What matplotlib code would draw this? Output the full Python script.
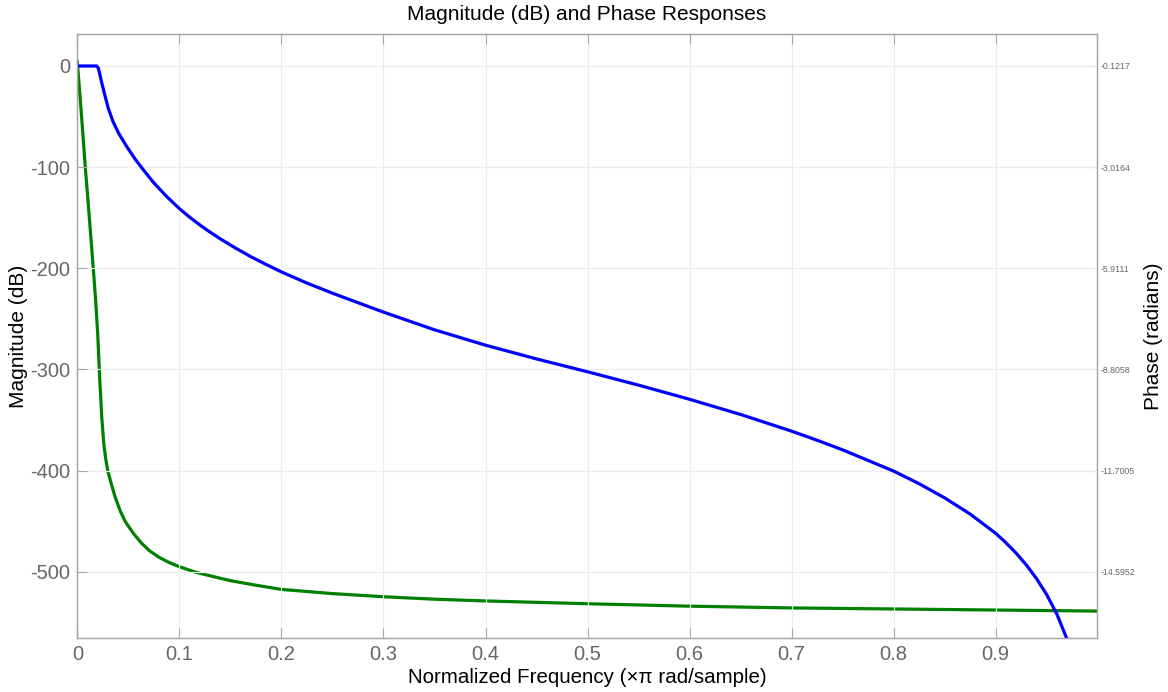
import matplotlib
matplotlib.use("Agg")
import matplotlib.pyplot as plt

plt.rcParams['font.family'] = ['Liberation Sans', 'DejaVu Sans']
plt.rcParams['axes.unicode_minus'] = False

# magnitude response (dB)
freq_mag = [0, 0.010, 0.019, 0.0205, 0.022, 0.024, 0.027, 0.0304, 0.035, 0.0402,
            0.048, 0.0566, 0.065, 0.0745, 0.087, 0.100, 0.110, 0.120, 0.130, 0.140,
            0.155, 0.170, 0.185, 0.200, 0.225, 0.250, 0.275, 0.300, 0.350, 0.400,
            0.450, 0.500, 0.550, 0.600, 0.650, 0.700, 0.725, 0.750, 0.775, 0.800,
            0.825, 0.850, 0.875, 0.900, 0.910, 0.920, 0.930, 0.940, 0.950, 0.960,
            0.970, 0.980]
mag_db = [0, 0, 0, -2, -8, -17, -29, -42, -55, -66,
          -79, -92, -103, -115, -128.5, -141, -149.4, -157.1, -164.2, -170.8,
          -180, -188.5, -196.2, -203.6, -214.6, -224.6, -234, -243.3, -260.8, -276,
          -289.6, -302.3, -315.5, -329.5, -344.5, -361, -370, -379.5, -390, -400.5,
          -413, -427, -443, -462, -471.3, -481.6, -493.3, -506.8, -522.7, -542,
          -567, -602]

# phase response (radians)
freq_ph = [0, 0.002, 0.004, 0.006, 0.008, 0.010, 0.012, 0.014, 0.016, 0.018,
           0.020, 0.022, 0.024, 0.026, 0.028, 0.030, 0.033, 0.037, 0.042, 0.047,
           0.055, 0.063, 0.071, 0.080, 0.090, 0.100, 0.115, 0.130, 0.150, 0.175,
           0.200, 0.250, 0.300, 0.350, 0.400, 0.500, 0.600, 0.700, 0.800, 0.900, 0.998]
phase = [0, -0.75, -1.5, -2.3, -3.1, -3.8, -4.55, -5.3, -6.05, -6.85,
         -7.8, -9.1, -10.2, -10.95, -11.4, -11.72, -12.05, -12.45, -12.85, -13.16,
         -13.5, -13.78, -14.0, -14.18, -14.33, -14.45, -14.6, -14.71, -14.85, -14.98,
         -15.10, -15.22, -15.31, -15.38, -15.43, -15.51, -15.58, -15.63, -15.66, -15.69, -15.72]

mag_ticks = [0, -100, -200, -300, -400, -500]
phase_ticks = [-0.1217, -3.0164, -5.9111, -8.8058, -11.7005, -14.5952]
x_ticks = [0, 0.1, 0.2, 0.3, 0.4, 0.5, 0.6, 0.7, 0.8, 0.9]

mag_lim = (-565.5, 31.3)
# right axis is scaled so its ticks line up with the dB ticks
scale = (phase_ticks[1] - phase_ticks[0]) / (mag_ticks[1] - mag_ticks[0])
phase_lim = tuple(phase_ticks[0] + v * scale for v in mag_lim)

spine_col = '#a6a6a6'
tick_col = '#666666'

fig = plt.figure(figsize=(11.68, 6.92), dpi=100)
ax = fig.add_axes([0.0662, 0.078, 0.8728, 0.8724])
ax2 = ax.twinx()

ax.plot(freq_mag, mag_db, color='#0000ff', lw=2.3, solid_joinstyle='round')
ax2.plot(freq_ph, phase, color='#008000', lw=2.3, solid_joinstyle='round')
ax.set_zorder(ax2.get_zorder() + 1)
ax.patch.set_visible(False)

ax.set_xlim(0, 0.999)
ax.set_ylim(*mag_lim)
ax2.set_ylim(*phase_lim)
ax.set_xticks(x_ticks)
ax.set_xticklabels([f'{t:g}' for t in x_ticks])
ax.set_yticks(mag_ticks)
ax2.set_yticks(phase_ticks)
ax2.set_yticklabels([f'{t:g}' for t in phase_ticks])

ax.grid(True, color='#ececec', lw=0.8)
ax.tick_params(axis='both', direction='in', length=7, width=0.8, color=spine_col,
               labelcolor=tick_col, labelsize=14.5, top=True, right=False, pad=5)
ax2.tick_params(axis='y', direction='in', length=7, width=0.8, color=spine_col,
                labelcolor=tick_col, labelsize=6.3, pad=3)
for a in (ax, ax2):
    for s in a.spines.values():
        s.set_color(spine_col)
        s.set_linewidth(0.9)

ax.set_xlabel('Normalized Frequency (\u00d7\u03c0 rad/sample)', fontsize=14.8, labelpad=3)
ax.set_ylabel('Magnitude (dB)', fontsize=15, labelpad=1.5)
ax2.set_ylabel('Phase (radians)', fontsize=15, labelpad=6)
ax.set_title('Magnitude (dB) and Phase Responses', fontsize=15, pad=10)

fig.savefig('out.png', dpi=100)
